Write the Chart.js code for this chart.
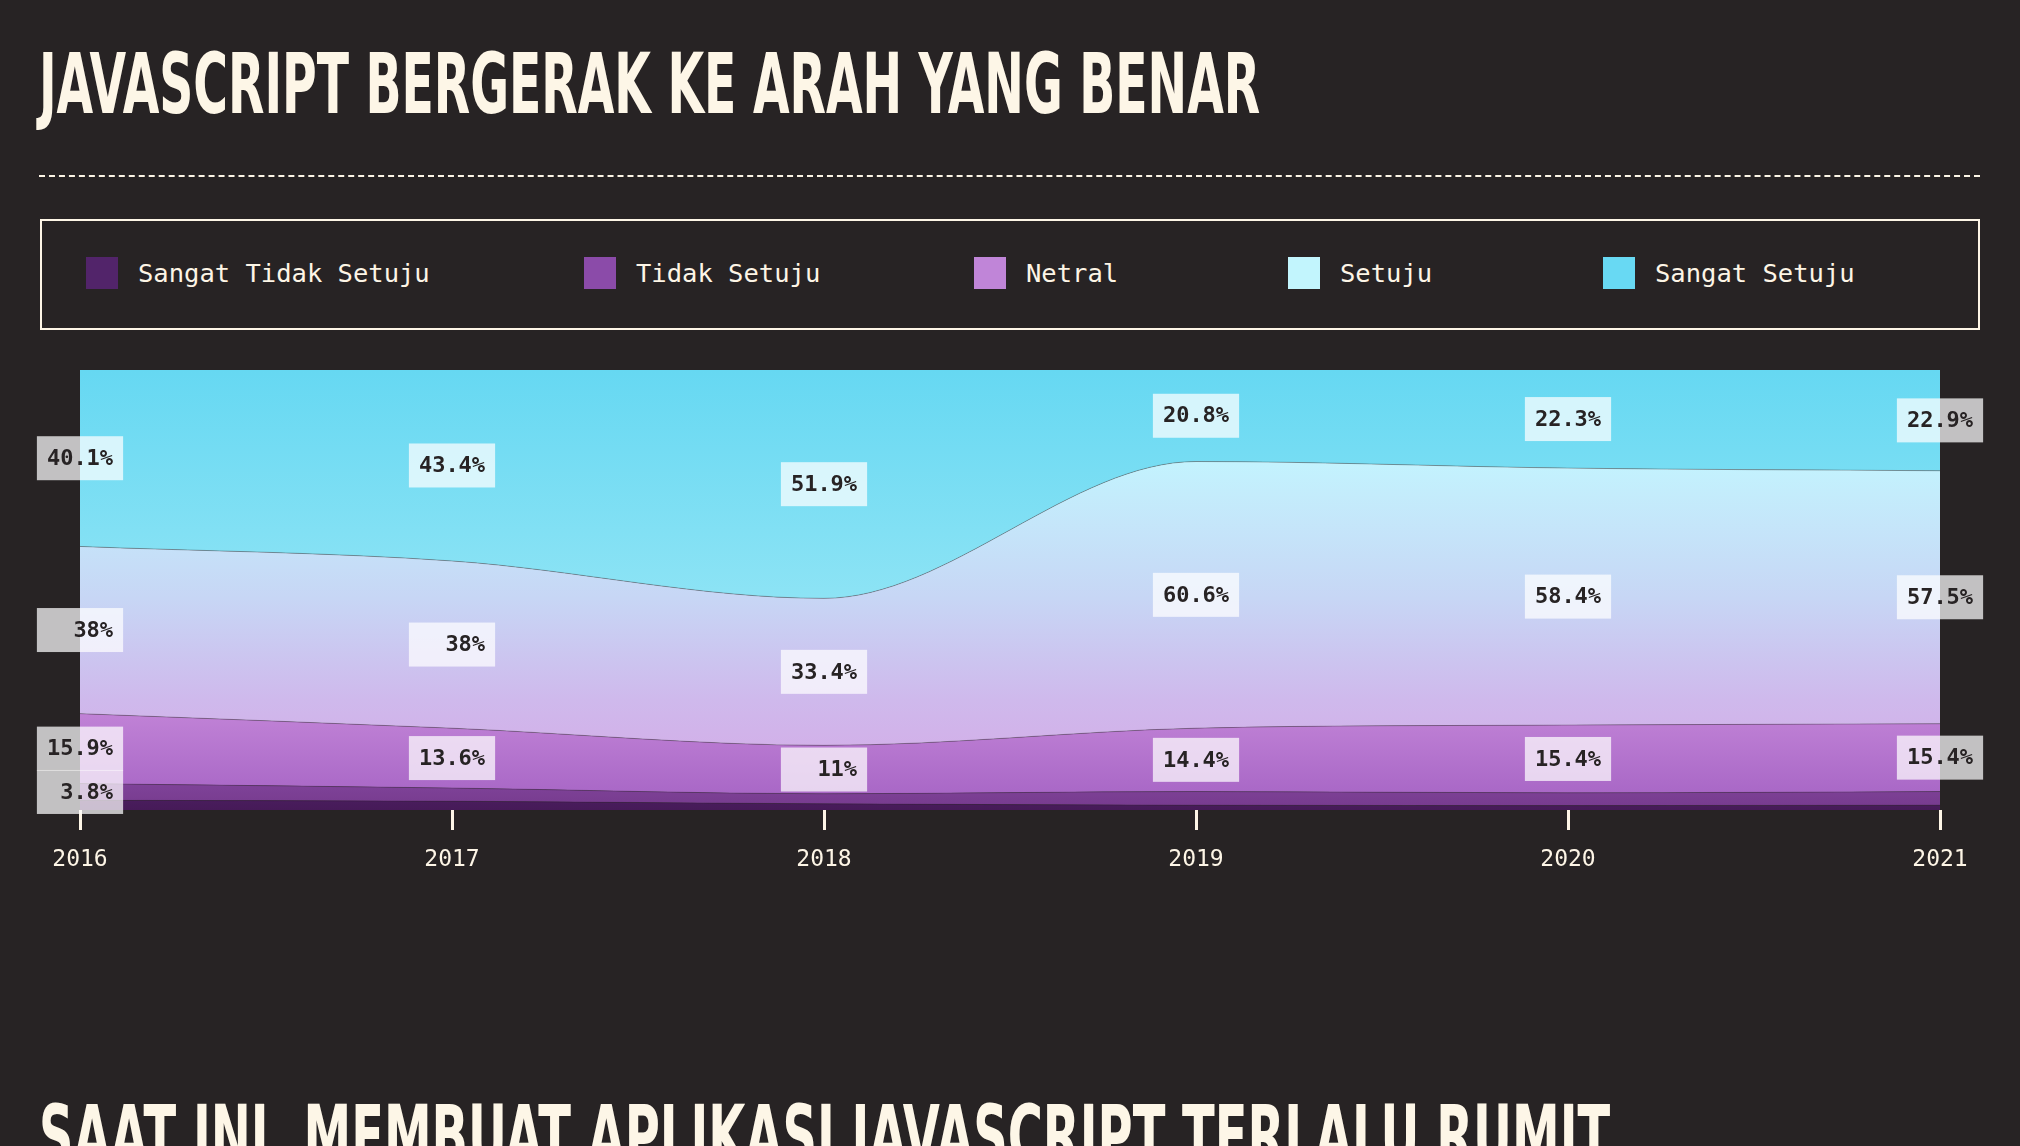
<!DOCTYPE html>
<html lang="id">
<head>
<meta charset="utf-8">
<title>JavaScript bergerak ke arah yang benar</title>
<script src="https://cdn.jsdelivr.net/npm/chart.js@4.4.1/dist/chart.umd.min.js"></script>
<style>
  html, body { margin: 0; padding: 0; background: #272324; overflow: hidden; }
  body { width: 2020px; height: 1146px; position: relative; font-family: "DejaVu Sans Mono", monospace; color: #fdf5e6; }
  .title {
    position: absolute; left: 39px; margin: 0;
    font-family: "Liberation Sans Narrow", "DejaVu Sans Condensed", sans-serif;
    font-weight: 700; font-size: 84px; line-height: 1; color: #fdf6e7;
    white-space: nowrap; transform-origin: left top;
  }
  #title1 { top: 42px; }
  #title2 { top: 1094px; }
  .rule { position: absolute; left: 39px; width: 1941px; top: 175px; border-top: 2px dashed #fdf5e6; }
  #legend {
    position: absolute; left: 40px; top: 219px; width: 1940px; height: 111px;
    box-sizing: border-box; border: 2px solid #fdf5e6; padding-left: 44px; padding-bottom: 3px;
    display: grid; grid-template-columns: 498px 390px 314px 315px auto; align-items: center;
  }
  .item { display: flex; align-items: center; font-size: 25.5px; white-space: nowrap; }
  .sw { width: 32px; height: 32px; margin-right: 20px; flex: none; }
  #wrap { position: absolute; left: 0; top: 340px; width: 2020px; height: 560px; }
</style>
</head>
<body>
<h1 class="title" id="title1">JAVASCRIPT BERGERAK KE ARAH YANG BENAR</h1>
<div class="rule"></div>
<div id="legend"></div>
<div id="wrap"><canvas id="chart"></canvas></div>
<h1 class="title" id="title2">SAAT INI, MEMBUAT APLIKASI JAVASCRIPT TERLALU RUMIT</h1>

<script>
// Data
const years = ['2016', '2017', '2018', '2019', '2020', '2021'];
const seriesNames = ['Sangat Tidak Setuju', 'Tidak Setuju', 'Netral', 'Setuju', 'Sangat Setuju'];
const sangatTidakSetuju = [2.2, 2.0, 1.4, 1.1, 1.0, 1.1];
const tidakSetuju = [3.8, 3.0, 2.3, 3.1, 2.9, 3.1];
const netral = [15.9, 13.6, 11, 14.4, 15.4, 15.4];
const setuju = [38, 38, 33.4, 60.6, 58.4, 57.5];
const sangatSetuju = [40.1, 43.4, 51.9, 20.8, 22.3, 22.9];

const swatchColors = ['#52246a', '#8b4ba9', '#c085d8', '#c2f5fd', '#68d9f3'];
// vertical gradient stops over the plot area (0 = top, 1 = bottom)
const fillStops = [
  [[0, '#5a2770'], [0.95, '#4d2062'], [1, '#461a58']],
  [[0, '#9a55b8'], [0.93, '#80449a'], [1, '#763a8d']],
  [[0, '#e2b2f0'], [0.76, '#c385d8'], [1, '#a462c3']],
  [[0, '#bff7ff'], [0.21, '#c3f3fe'], [0.52, '#c7d6f5'], [0.75, '#cfb9ec'], [1, '#d6a6e5']],
  [[0, '#66d8f2'], [0.55, '#8fe4f5'], [1, '#a8ecf7']]
];
const seriesValues = [sangatTidakSetuju, tidakSetuju, netral, setuju, sangatSetuju];

const cream = '#fdf5e6';
const ink = '#272324';

// Legend
const legend = document.getElementById('legend');
seriesNames.forEach((name, i) => {
  const item = document.createElement('div');
  item.className = 'item';
  item.innerHTML = `<span class="sw" style="background:${swatchColors[i]}"></span><span>${name}</span>`;
  legend.appendChild(item);
});

// Titles: squeeze to the condensed look
const t1 = document.getElementById('title1');
const t2 = document.getElementById('title2');
t1.style.transform = `scaleX(${1221 / t1.offsetWidth})`;
t2.style.transform = `scaleX(${1571 / t2.offsetWidth})`;

function gradientFor(i) {
  return (context) => {
    const chart = context.chart;
    const area = chart.chartArea;
    if (!area) return swatchColors[i];
    const g = chart.ctx.createLinearGradient(0, area.top, 0, area.bottom);
    fillStops[i].forEach(([p, c]) => g.addColorStop(p, c));
    return g;
  };
}

// Box labels in the middle of each band, skipped when they collide or fall off the plot
const boxLabels = {
  id: 'boxLabels',
  afterDatasetsDraw(chart) {
    const ctx = chart.ctx;
    const zero = chart.scales.y.getPixelForValue(0);
    const floor = chart.chartArea.bottom + 6;
    ctx.save();
    ctx.font = 'bold 22px "DejaVu Sans Mono", monospace';
    ctx.textAlign = 'center';
    ctx.textBaseline = 'middle';
    const n = chart.data.labels.length;
    for (let i = 0; i < n; i++) {
      const placed = [];
      for (let d = chart.data.datasets.length - 1; d >= 0; d--) {
        const pt = chart.getDatasetMeta(d).data[i];
        const below = d > 0 ? chart.getDatasetMeta(d - 1).data[i].y : zero;
        const cy = (pt.y + below) / 2;
        const top = cy - 22, bottom = cy + 22;
        if (bottom > floor) continue;
        if (placed.some(b => top < b.bottom - 1 && bottom > b.top + 1)) continue;
        placed.push({ top, bottom });
        const text = (chart.data.datasets[d].data[i] + '%').padStart(5, ' ');
        const w = ctx.measureText(text).width + 20;
        ctx.fillStyle = 'rgba(255,255,255,0.72)';
        ctx.fillRect(pt.x - w / 2, top, w, 44);
        ctx.fillStyle = ink;
        ctx.fillText(text, pt.x, cy + 1);
      }
    }
    ctx.restore();
  }
};

const datasets = seriesNames.map((name, i) => ({
  label: name,
  data: seriesValues[i],
  fill: i === 0 ? 'origin' : '-1',
  backgroundColor: gradientFor(i),
  borderColor: i === 4 ? 'rgba(0,0,0,0)' : 'rgba(39,35,36,0.3)',
  borderWidth: 1,
  pointRadius: 0,
  pointHoverRadius: 0,
  cubicInterpolationMode: 'monotone'
}));

new Chart(document.getElementById('chart'), {
  type: 'line',
  data: { labels: years, datasets },
  plugins: [boxLabels],
  options: {
    responsive: true,
    maintainAspectRatio: false,
    animation: false,
    layout: { padding: { left: 80, right: 80, top: 30, bottom: 0 } },
    plugins: {
      legend: { display: false },
      tooltip: { enabled: false }
    },
    scales: {
      x: {
        offset: false,
        border: { display: false },
        grid: { drawOnChartArea: false, drawTicks: true, tickLength: 20, tickWidth: 3, tickColor: cream },
        ticks: { color: cream, font: { family: 'DejaVu Sans Mono', size: 23 }, padding: 16, maxRotation: 0, autoSkip: false },
        afterFit: s => { s.height = 90; }
      },
      y: {
        display: false,
        stacked: true,
        min: 0,
        max: 100
      }
    }
  }
});
</script>
</body>
</html>
